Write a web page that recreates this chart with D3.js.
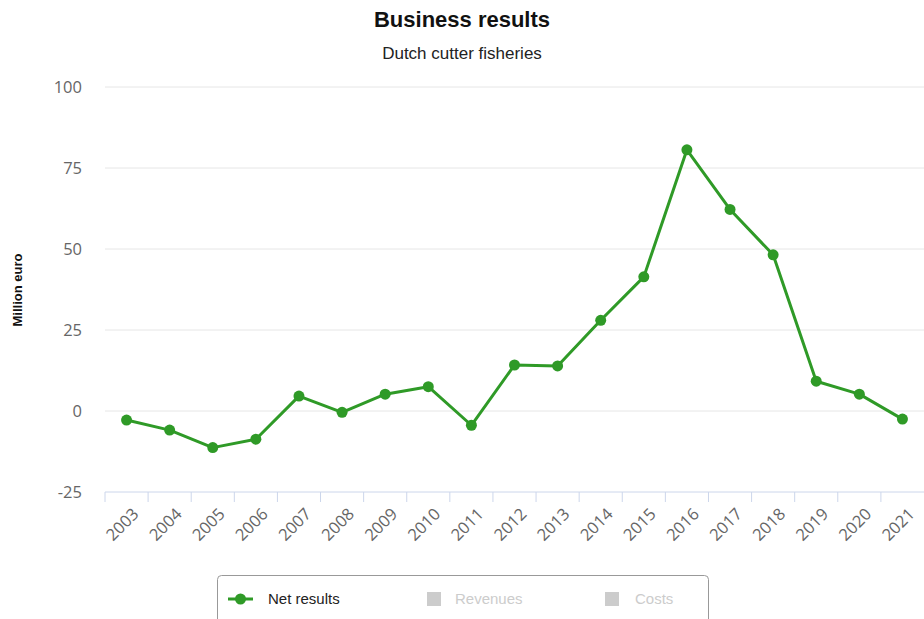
<!DOCTYPE html>
<html>
<head>
<meta charset="utf-8">
<script src="https://cdn.jsdelivr.net/npm/d3@7"></script>
<style>
  body { margin: 0; background: #fff; }
  #chart svg { display: block; }
</style>
</head>
<body>
<div id="chart"></div>
<script>
// data
const years = ["2003", "2004", "2005", "2006", "2007", "2008", "2009", "2010", "2011", "2012",
               "2013", "2014", "2015", "2016", "2017", "2018", "2019", "2020", "2021"];
const netResults = [-2.8, -5.9, -11.3, -8.7, 4.6, -0.4, 5.2, 7.5, -4.4, 14.2,
                    13.9, 28.0, 41.4, 80.6, 62.2, 48.2, 9.2, 5.2, -2.5];
const yTicks = [-25, 0, 25, 50, 75, 100];
const legendItems = ["Net results", "Revenues", "Costs"];

const width = 924, height = 619;
const margin = { top: 87, right: 0, bottom: 127, left: 105 };
const innerWidth = width - margin.left - margin.right;
const innerHeight = height - margin.top - margin.bottom;
const green = "#2f9a27";

const svg = d3.select("#chart").append("svg")
    .attr("width", width)
    .attr("height", height);

// titles
svg.append("text")
    .attr("x", 462).attr("y", 27)
    .attr("text-anchor", "middle")
    .style("font-family", "Liberation Sans, Arial, sans-serif")
    .style("font-size", "22px")
    .style("font-weight", "bold")
    .style("fill", "#111")
    .text("Business results");

svg.append("text")
    .attr("x", 462).attr("y", 59)
    .attr("text-anchor", "middle")
    .style("font-family", "Liberation Sans, Arial, sans-serif")
    .style("font-size", "17px")
    .style("fill", "#222")
    .text("Dutch cutter fisheries");

const g = svg.append("g")
    .attr("transform", `translate(${margin.left},${margin.top})`);

const x = d3.scaleBand()
    .domain(years)
    .range([0, innerWidth]);

const y = d3.scaleLinear()
    .domain([-25, 100])
    .range([innerHeight, 0]);

// gridlines
g.selectAll(".grid")
    .data(yTicks.filter(t => t !== -25))
    .enter().append("line")
    .attr("class", "grid")
    .attr("x1", 0)
    .attr("x2", innerWidth)
    .attr("y1", d => y(d))
    .attr("y2", d => y(d))
    .attr("stroke", "#e6e6e6")
    .attr("stroke-width", 1);

// y tick labels
g.selectAll(".ytick")
    .data(yTicks)
    .enter().append("text")
    .attr("class", "ytick")
    .attr("x", -23)
    .attr("y", d => y(d))
    .attr("dy", "0.35em")
    .attr("text-anchor", "end")
    .style("font-family", "Open Sans, sans-serif")
    .style("font-size", "16.5px")
    .style("fill", "#666")
    .text(d => d);

// y axis title
svg.append("text")
    .attr("transform", `translate(22,290) rotate(-90)`)
    .attr("text-anchor", "middle")
    .style("font-family", "Liberation Sans, Arial, sans-serif")
    .style("font-size", "13px")
    .style("font-weight", "bold")
    .style("fill", "#111")
    .text("Million euro");

// x axis
const xAxis = g.append("g")
    .attr("transform", `translate(0,${innerHeight})`);

xAxis.append("line")
    .attr("x1", 0).attr("x2", innerWidth)
    .attr("stroke", "#ccd6eb");

xAxis.selectAll(".xtick")
    .data(years)
    .enter().append("line")
    .attr("class", "xtick")
    .attr("x1", d => x(d))
    .attr("x2", d => x(d))
    .attr("y1", 0).attr("y2", 10)
    .attr("stroke", "#ccd6eb");

xAxis.selectAll(".xlabel")
    .data(years)
    .enter().append("text")
    .attr("class", "xlabel")
    .attr("transform", d => `translate(${x(d) + x.bandwidth() / 2 + 5},${15}) rotate(-45)`)
    .attr("text-anchor", "end")
    .attr("dy", "0.7em")
    .style("font-family", "Open Sans, sans-serif")
    .style("font-size", "16.5px")
    .style("fill", "#666")
    .text(d => d);

// line
const line = d3.line()
    .x((d, i) => x(years[i]) + x.bandwidth() / 2)
    .y(d => y(d));

g.append("path")
    .datum(netResults)
    .attr("fill", "none")
    .attr("stroke", green)
    .attr("stroke-width", 3)
    .attr("stroke-linejoin", "round")
    .attr("d", line);

g.selectAll(".dot")
    .data(netResults)
    .enter().append("circle")
    .attr("class", "dot")
    .attr("cx", (d, i) => x(years[i]) + x.bandwidth() / 2)
    .attr("cy", d => y(d))
    .attr("r", 5.5)
    .attr("fill", green);

// legend: the box is open at the bottom, it runs off the picture in the reference
const legend = svg.append("g")
    .attr("transform", "translate(217,575)");

const boxW = 491, boxH = 44, r = 4;
legend.append("path")
    .attr("d", `M0.5,${boxH} V${r + 0.5} Q0.5,0.5 ${r + 0.5},0.5 H${boxW - r + 0.5} Q${boxW + 0.5},0.5 ${boxW + 0.5},${r + 0.5} V${boxH}`)
    .attr("fill", "#fff")
    .attr("stroke", "#999");

const legendX = [11, 210, 388];
legendItems.forEach((name, i) => {
    const item = legend.append("g").attr("transform", `translate(${legendX[i]},24)`);
    if (i === 0) {
        item.append("line")
            .attr("x1", 0).attr("x2", 25)
            .attr("stroke", green).attr("stroke-width", 3);
        item.append("circle")
            .attr("cx", 12.5).attr("r", 5.5)
            .attr("fill", green);
    } else {
        item.append("rect")
            .attr("x", 0).attr("y", -7)
            .attr("width", 14).attr("height", 14)
            .attr("fill", "#cccccc");
    }
    item.append("text")
        .attr("x", i === 0 ? 40 : (i === 1 ? 28 : 30))
        .attr("dy", "0.35em")
        .style("font-family", "Liberation Sans, Arial, sans-serif")
        .style("font-size", "15px")
        .style("fill", i === 0 ? "#222" : "#ccc")
        .text(name);
});
</script>
</body>
</html>
